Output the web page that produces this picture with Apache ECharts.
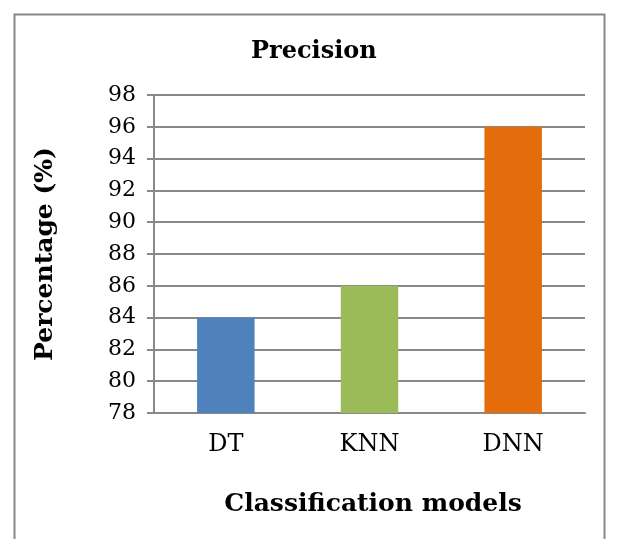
<!DOCTYPE html>
<html>
<head>
<meta charset="utf-8">
<script src="https://cdn.jsdelivr.net/npm/echarts@6/dist/echarts.min.js"></script>
<style>
  html, body { margin: 0; padding: 0; background: #fff; }
  #main { width: 617px; height: 539px; }
</style>
</head>
<body>
<div id="main"></div>
<script>
// 数据
var models = ['DT', 'KNN', 'DNN'];
var precision = [84, 86, 96];
var barColors = ['#4F81BD', '#9BBB59', '#E46C0A'];

var chart = echarts.init(document.getElementById('main'));

var serif = 'DejaVu Serif';

var option = {
    animation: false,
    backgroundColor: '#fff',
    title: {
        text: 'Precision',
        left: 251,
        top: 40,
        padding: 0,
        textStyle: { fontFamily: serif, fontWeight: 'bold', fontSize: 24, color: '#000' }
    },
    graphic: [{
        type: 'rect',
        shape: { x: 14.5, y: 14.5, width: 590, height: 540 },
        style: { fill: 'none', stroke: '#888', lineWidth: 2 },
        silent: true
    }],
    grid: {
        left: 154,
        right: 32,
        top: 95,
        bottom: 126
    },
    xAxis: {
        type: 'category',
        data: models,
        name: 'Classification models',
        nameLocation: 'middle',
        nameGap: 79,
        nameTextStyle: { fontFamily: serif, fontWeight: 'bold', fontSize: 25, color: '#000', padding: [0, 0, 0, 7] },
        axisLine: { lineStyle: { color: '#888', width: 2 } },
        axisTick: { show: false },
        axisLabel: { fontFamily: serif, fontSize: 24, color: '#000', margin: 20 }
    },
    yAxis: {
        type: 'value',
        min: 78,
        max: 98,
        interval: 2,
        name: 'Percentage (%)',
        nameLocation: 'middle',
        nameGap: 96,
        nameTextStyle: { fontFamily: serif, fontWeight: 'bold', fontSize: 25, color: '#000' },
        axisLine: { show: true, lineStyle: { color: '#888', width: 2 } },
        axisTick: { show: true, length: 7, lineStyle: { color: '#888', width: 2 } },
        axisLabel: { fontFamily: serif, fontSize: 22, color: '#000', margin: 18 },
        splitLine: { lineStyle: { color: '#888', width: 2 } }
    },
    series: [{
        type: 'bar',
        barWidth: '40%',
        data: precision.map(function (v, i) {
            return { value: v, itemStyle: { color: barColors[i] } };
        })
    }]
};

chart.setOption(option);
</script>
</body>
</html>
